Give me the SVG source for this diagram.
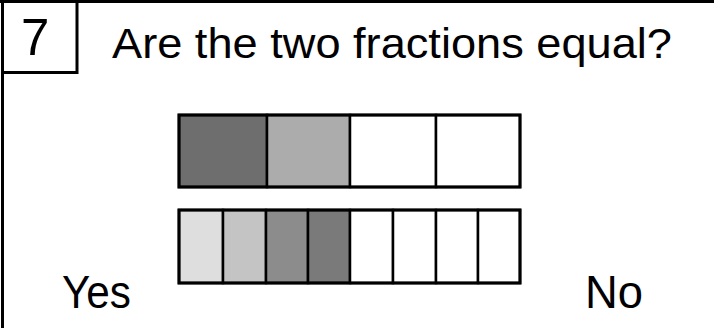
<svg xmlns="http://www.w3.org/2000/svg" width="714" height="328" viewBox="0 0 714 328">
<style>
text{font-family:"Liberation Sans",Arial,sans-serif;fill:#000}
.frame{fill:none;stroke:#000;stroke-width:3}
.cell{stroke:#000;stroke-width:2.5}
.outer{fill:none;stroke:#000;stroke-width:3}
</style>
<rect width="714" height="328" fill="#fff"/>
<g id="frame">
<line class="frame" x1="0" y1="1.5" x2="714" y2="1.5"/>
<line class="frame" x1="2.5" y1="0" x2="2.5" y2="328"/>
<polyline class="frame" points="2.5,72.5 77,72.5 77,0"/>
</g>
<g id="number"><text x="21" y="55" font-size="51">7</text></g>
<g id="title"><text x="112" y="58" font-size="42" textLength="560" lengthAdjust="spacingAndGlyphs">Are the two fractions equal?</text></g>
<g id="bar-quarters">
<rect class="cell" x="179" y="115" width="88" height="72" fill="#6e6e6e"/>
<rect class="cell" x="267" y="115" width="83" height="72" fill="#acacac"/>
<rect class="cell" x="350" y="115" width="86" height="72" fill="#fff"/>
<rect class="cell" x="436" y="115" width="84" height="72" fill="#fff"/>
<rect class="outer" x="179" y="115" width="341" height="72"/>
</g>
<g id="bar-eighths">
<rect class="cell" x="179" y="210" width="44" height="73" fill="#dedede"/>
<rect class="cell" x="223" y="210" width="43" height="73" fill="#c4c4c4"/>
<rect class="cell" x="266" y="210" width="42" height="73" fill="#8c8c8c"/>
<rect class="cell" x="308" y="210" width="42" height="73" fill="#7a7a7a"/>
<rect class="cell" x="350" y="210" width="43" height="73" fill="#fff"/>
<rect class="cell" x="393" y="210" width="43" height="73" fill="#fff"/>
<rect class="cell" x="436" y="210" width="42" height="73" fill="#fff"/>
<rect class="cell" x="478" y="210" width="42" height="73" fill="#fff"/>
<rect class="outer" x="179" y="210" width="341" height="73"/>
</g>
<g id="yes"><text x="62" y="308" font-size="46" textLength="69" lengthAdjust="spacingAndGlyphs">Yes</text></g>
<g id="no"><text x="585" y="308" font-size="46" textLength="58" lengthAdjust="spacingAndGlyphs">No</text></g>
</svg>
